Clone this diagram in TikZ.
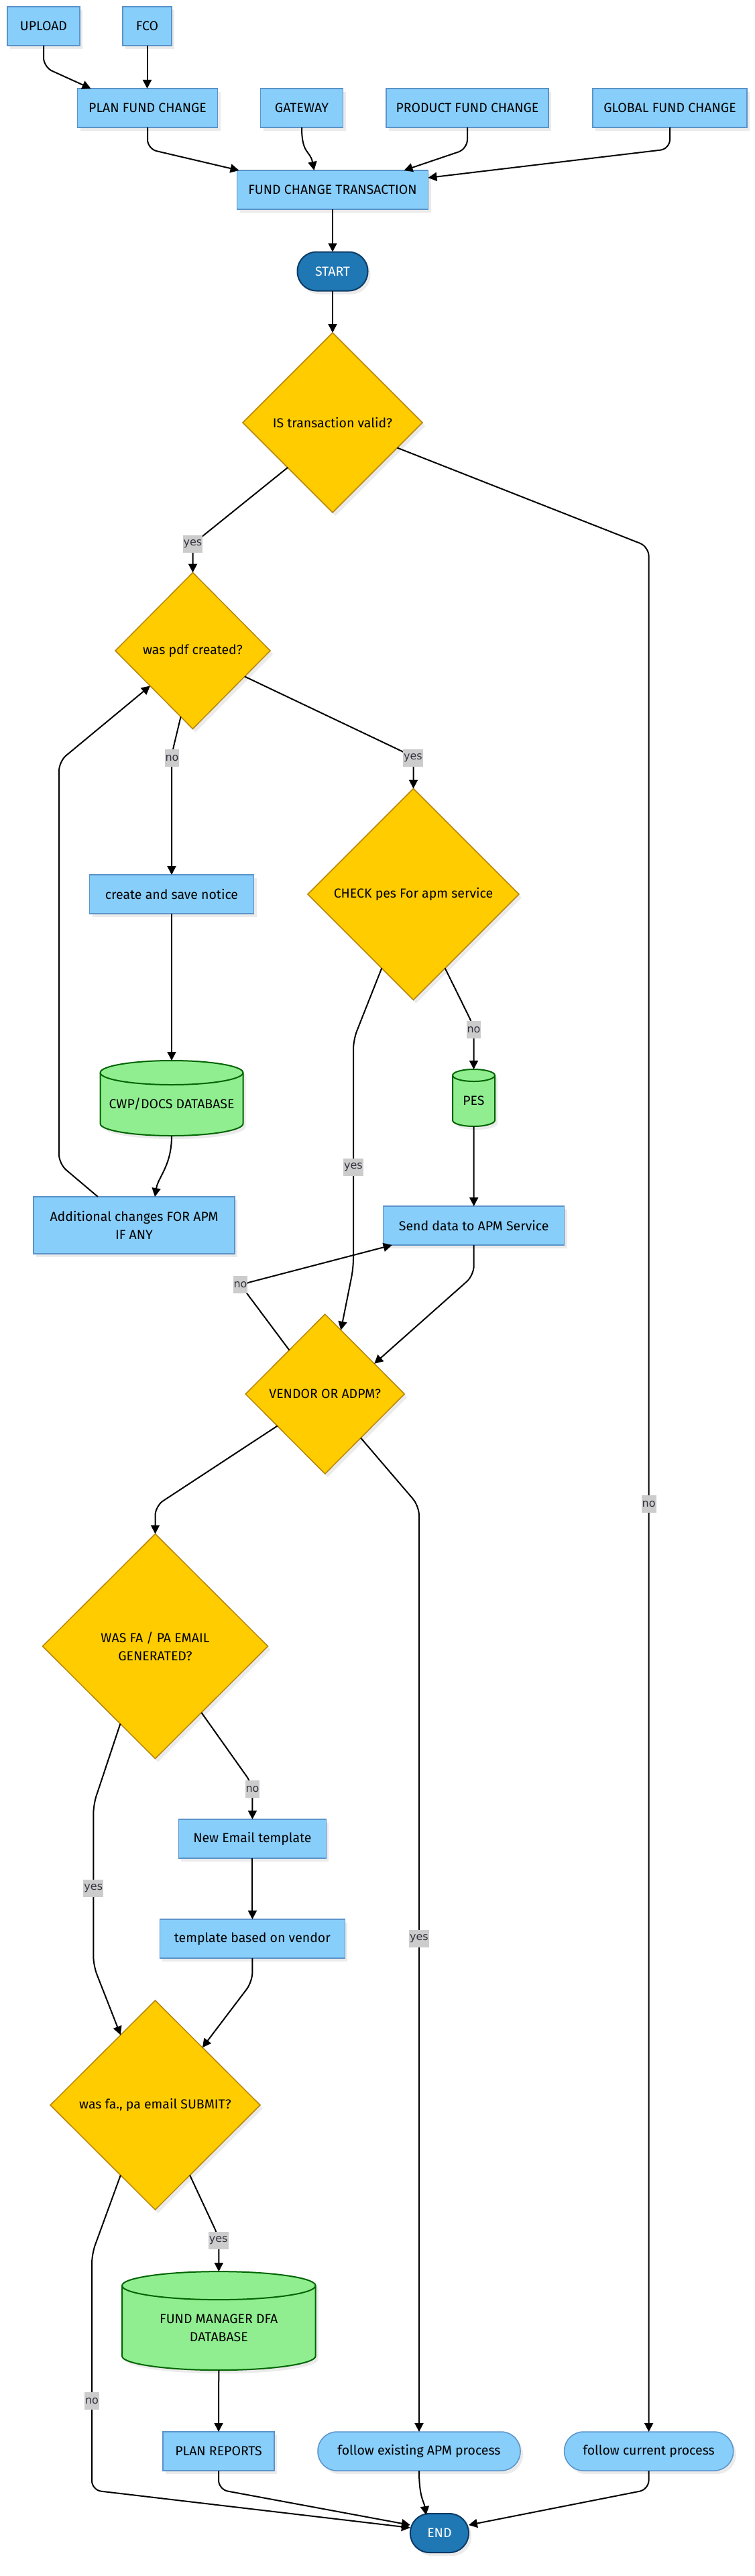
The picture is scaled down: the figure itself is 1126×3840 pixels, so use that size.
\documentclass[tikz,border=0pt]{standalone}
\usepackage{fontspec}
\setmainfont{Fira Sans}
\newfontfamily\lblfont{DejaVu Sans}
\usetikzlibrary{shapes.geometric,shadows,arrows.meta,calc}
\definecolor{boxfill}{HTML}{87CEFA}
\definecolor{boxline}{HTML}{5B93C9}
\definecolor{decfill}{HTML}{FFCC00}
\definecolor{decline}{HTML}{B8860B}
\definecolor{dbfill}{HTML}{90EE90}
\definecolor{dbline}{HTML}{006400}
\definecolor{termfill}{HTML}{1F77B4}
\definecolor{termline}{HTML}{0D3B66}
\definecolor{shadowcol}{HTML}{EBEBEB}
\definecolor{lblfill}{HTML}{CCCCCC}
\definecolor{lbltext}{HTML}{333340}
\tikzset{
  sh/.style={drop shadow={shadow xshift=4pt,shadow yshift=-5pt,fill=shadowcol,opacity=1}},
  nodefont/.style={font=\fontsize{19.5}{27}\selectfont},
  box/.style={rectangle, sh, fill=boxfill, draw=boxline, line width=1.5pt, inner sep=0pt, outer sep=0pt, minimum height=58pt, nodefont, align=center},
  pill/.style={box, rounded corners=28.5pt},
  term/.style={rectangle, rounded corners=28.5pt, sh, fill=termfill, draw=termline, line width=2pt, text=white, minimum height=58pt, inner sep=0pt, outer sep=0pt, nodefont},
  dec/.style={diamond, aspect=1, sh, fill=decfill, draw=decline, line width=1.5pt, inner sep=0pt, outer sep=0pt, nodefont, align=center},
  conn/.style={line width=2pt, -{Triangle[length=13pt,width=13pt]}, rounded corners=14pt},
  lbl/.style={fill=lblfill, text=lbltext, font=\lblfont\fontsize{16}{19}\selectfont, inner xsep=1pt, inner ysep=0pt, minimum height=26pt},
  dbbody/.style={fill=dbfill, draw=dbline, line width=2pt},
}
% #1 name, #2 cx, #3 cy, #4 half width, #5 half height, #6 ry, #7 text
\newcommand\dbshape[7]{%
  \begin{scope}[shift={(4,5)}]
    \fill[shadowcol] ({#2-#4},{#3-#5+#6}) -- ({#2-#4},{#3+#5-#6})
      arc[start angle=180,end angle=360,x radius=#4pt,y radius=#6pt]
      -- ({#2+#4},{#3-#5+#6})
      arc[start angle=0,end angle=180,x radius=#4pt,y radius=#6pt] -- cycle;
  \end{scope}
  \filldraw[dbbody] ({#2-#4},{#3-#5+#6}) -- ({#2-#4},{#3+#5-#6})
      arc[start angle=180,end angle=360,x radius=#4pt,y radius=#6pt]
      -- ({#2+#4},{#3-#5+#6})
      arc[start angle=0,end angle=180,x radius=#4pt,y radius=#6pt] -- cycle;
  \draw[draw=dbline, line width=2pt] ({#2-#4},{#3-#5+#6})
      arc[start angle=180,end angle=360,x radius=#4pt,y radius=#6pt];
  \node[inner sep=0pt, outer sep=0pt, minimum width={2*#4pt}, minimum height={2*#5pt}] (#1) at (#2,#3) {};
  \node[nodefont, align=center] (#1-t) at (#2,{#3+#6/2}) {#7};
}
\begin{document}
\begin{tikzpicture}[x=1pt,y=-1pt]
\fill[white] (0,0) rectangle (1126,3840);
\useasboundingbox (0,0) rectangle (1126,3840);

% nodes
\node[box, minimum width=108pt] (upload) at (65,39) {UPLOAD};
\node[box, minimum width=73pt] (fco) at (219.5,39) {FCO};
\node[box, minimum width=209pt] (plan) at (220,161) {PLAN FUND CHANGE};
\node[box, minimum width=123pt] (gateway) at (450,161) {GATEWAY};
\node[box, minimum width=242pt] (product) at (697,161) {PRODUCT FUND CHANGE};
\node[box, minimum width=230pt] (global) at (999,161) {GLOBAL FUND CHANGE};
\node[box, minimum width=285pt] (fct) at (496,283) {FUND CHANGE TRANSACTION};
\node[term, minimum width=105pt] (start) at (496,404.5) {START};
\node[dec, minimum width=268pt, minimum height=268pt] (d1) at (496,630) {IS transaction valid?};
\node[dec, minimum width=231pt, minimum height=233pt] (d2) at (287.5,970) {was pdf created?};
\node[box, minimum width=245pt] (notice) at (256,1333) {create and save notice};
\node[dec, minimum width=315pt, minimum height=315pt] (d3) at (616.5,1333) {CHECK pes For apm service};
\dbshape{cwp}{256}{1637}{106.5}{56}{18}{CWP/DOCS DATABASE}
\dbshape{pes}{706.5}{1636.5}{31.5}{42.5}{9}{PES}
\node[box, minimum width=300pt, minimum height=85pt] (addl) at (200,1826.5) {Additional changes FOR APM\\IF ANY};
\node[box, minimum width=270pt] (send) at (706.7,1827) {Send data to APM Service};
\node[dec, minimum width=237pt, minimum height=238pt] (d4) at (484.7,2078) {VENDOR OR ADPM?};
\node[dec, minimum width=336pt, minimum height=335pt] (d5) at (231.5,2454) {WAS FA / PA EMAIL\\GENERATED?};
\node[box, minimum width=220pt] (newemail) at (376.4,2741) {New Email template};
\node[box, minimum width=276pt] (tmpl) at (376.4,2890) {template based on vendor};
\node[dec, minimum width=313pt, minimum height=312pt] (d6) at (231.5,3138) {was fa., pa email SUBMIT?};
\dbshape{fmdb}{326.3}{3459.6}{144.3}{73.5}{21}{FUND MANAGER DFA\\DATABASE}
\node[box, minimum width=166pt] (reports) at (326,3654) {PLAN REPORTS};
\node[pill, minimum width=302pt] (fapm) at (625,3654) {follow existing APM process};
\node[pill, minimum width=252pt] (fcur) at (967.6,3654) {follow current process};
\node[term, minimum width=87pt] (endn) at (655.4,3776) {END};

% connectors
\draw[conn] (upload.south) -- (65,100) -- ($(plan.north west)+(20,0)$);
\draw[conn] (fco.south) -- (fco.south |- plan.north);
\draw[conn] (plan.south) -- ++(0,32) -- ($(fct.north west)+(3,0)$);
\draw[conn] (gateway.south) .. controls +(0,40) and +(-6,-30) .. ($(fct.north west)+(115,0)$);
\draw[conn] (product.south) -- ++(0,32) -- ($(fct.north west)+(249,0)$);
\draw[conn] (global.south) -- ++(0,32) -- ($(fct.north east)+(0,11)$);
\draw[conn] (fct.south) -- (start.north);
\draw[conn] (start.south) -- (d1.north);
\draw[conn] (d1.south west) -- (287.5,811) -- (d2.north);
\draw[conn] ($(d1.east)!0.28!(d1.south)$) -- (967.6,815) -- (fcur.north);
\draw[conn] ($(d2.west)!0.845!(d2.south)$) -- (256,1125) -- (notice.north);
\draw[conn] ($(d2.east)!0.33!(d2.south)$) -- (616.5,1128) -- (d3.north);
\draw[conn] (notice.south) -- (cwp.north);
\draw[conn] (cwp.south) .. controls +(0,45) and +(5,-30) .. ($(addl.north west)+(181,0)$);
\draw[conn] ($(addl.north west)+(96,0)$) -- (88,1735) -- (88,1135) -- ($(d2.west)!0.45!(d2.south)$);
\draw[conn] ($(d3.east)!0.70!(d3.south)$) -- (706.5,1530) -- (pes.north);
\draw[conn] ($(d3.west)!0.70!(d3.south)$) -- (527,1550) -- (527,1890) -- ($(d4.north)!0.2!(d4.east)$);
\draw[conn] (pes.south) -- (send.north);
\draw[conn] (send.south) -- ++(0,45) -- ($(d4.north)!0.62!(d4.east)$);
\draw[conn] ($(d4.north)!0.45!(d4.west)$) -- (358.5,1915) -- ($(send.south west)+(13,0)$);
\draw[conn] ($(d4.west)!0.4!(d4.south)$) -- (231.5,2245) -- (d5.north);
\draw[conn] ($(d4.east)!0.55!(d4.south)$) -- (625,2245) -- (fapm.north);
\draw[conn] ($(d5.east)!0.59!(d5.south)$) -- (376.4,2660) -- (newemail.north);
\draw[conn] ($(d5.west)!0.69!(d5.south)$) -- (139.3,2690) -- (139.3,2930) -- ($(d6.north)!0.33!(d6.west)$);
\draw[conn] (newemail.south) -- (tmpl.north);
\draw[conn] (tmpl.south) -- ++(0,35) -- ($(d6.north)!0.45!(d6.east)$);
\draw[conn] ($(d6.east)!0.67!(d6.south)$) -- (326.3,3335) -- (fmdb.north);
\draw[conn] ($(d6.west)!0.67!(d6.south)$) -- (137,3360) -- (137,3712) -- ($(endn.west)+(0,-8)$);
\draw[conn] (fmdb.south) -- (reports.north);
\draw[conn] (reports.south) -- ++(0,28) -- ($(endn.west)+(0,-12)$);
\draw[conn] (fapm.south) .. controls +(0,40) and +(-3,-20) .. ($(endn.north)+(-20,2)$);
\draw[conn] (fcur.south) -- ++(0,28) -- ($(endn.east)+(0,-12)$);

% edge labels
\node[lbl] (l1) at (287.5,811) {yes};
\node[lbl] (l2) at (967.6,2242) {no};
\node[lbl] (l3) at (256.5,1130) {no};
\node[lbl] (l4) at (616,1130) {yes};
\node[lbl] (l5) at (706.5,1535) {no};
\node[lbl] (l6) at (527,1740) {yes};
\node[lbl] (l7) at (358.5,1915) {no};
\node[lbl] (l8) at (625,2890) {yes};
\node[lbl] (l9) at (376.5,2667) {no};
\node[lbl] (l10) at (139.3,2815) {yes};
\node[lbl] (l11) at (325.7,3340) {yes};
\node[lbl] (l12) at (137,3579) {no};
\end{tikzpicture}
\end{document}
